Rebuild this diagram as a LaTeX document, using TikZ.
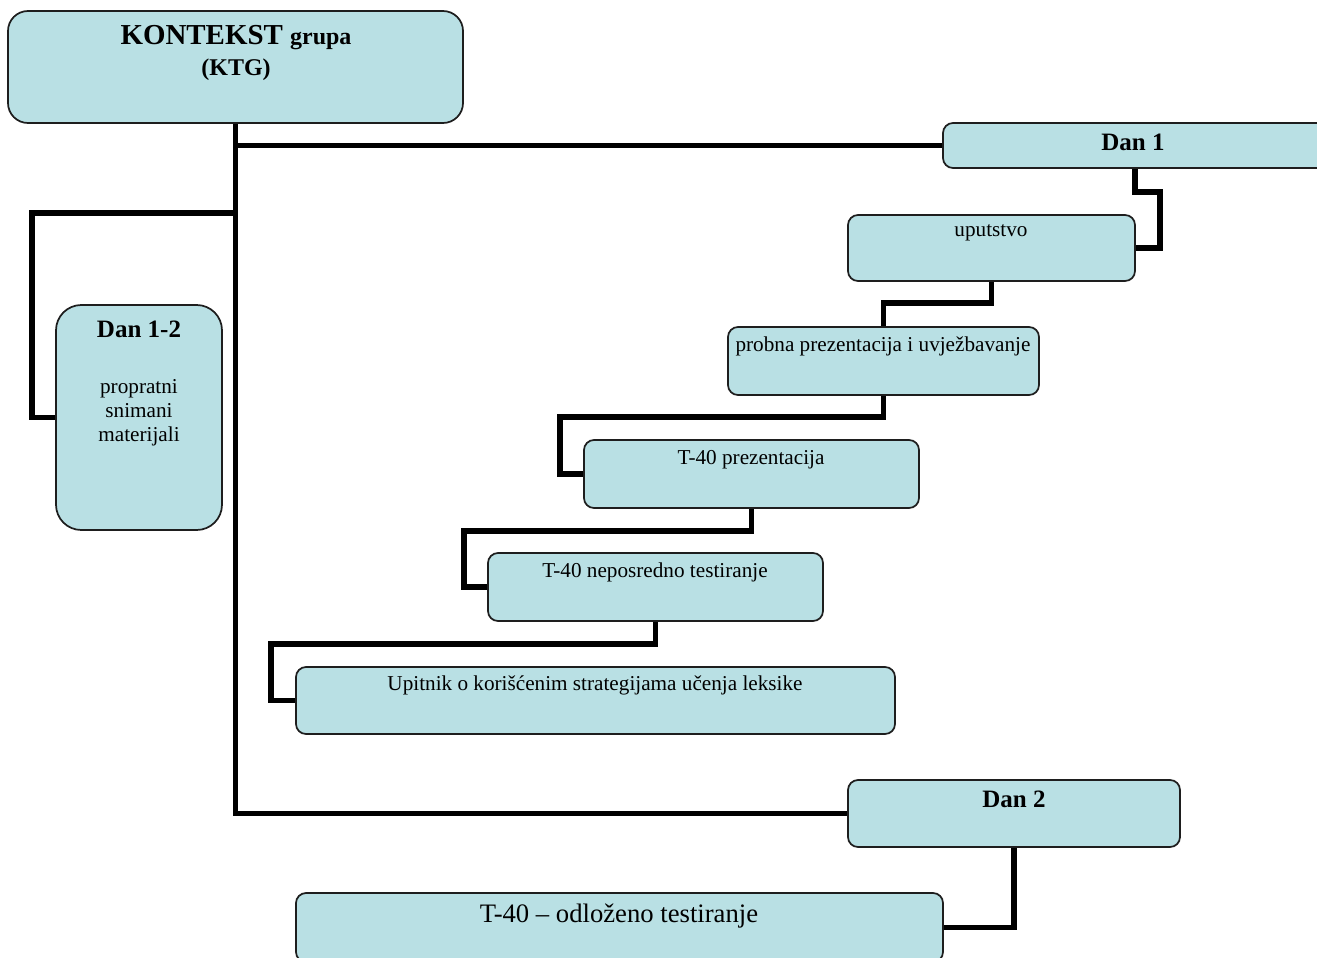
\documentclass[tikz,border=0pt]{standalone}
\usepackage{fontspec}
\setmainfont{Liberation Serif}
\usetikzlibrary{fit}
\definecolor{boxfill}{RGB}{185,224,228}
\definecolor{boxline}{RGB}{30,30,30}
\pgfdeclarelayer{bg}
\pgfsetlayers{bg,main}

\begin{document}
\begin{tikzpicture}[x=0.75pt,y=-0.75pt,
  box/.style={draw=boxline, line width=1.3pt, fill=boxfill, inner sep=0pt, outer sep=0pt, rounded corners=7.5pt},
  conn/.style={draw=black, line width=4.2pt},
  reg/.style={inner sep=0pt, anchor=base, font=\fontsize{15.9}{19}\selectfont},
  ttl/.style={inner sep=0pt, anchor=base, font=\fontsize{18.75}{22}\selectfont\bfseries},
]
\useasboundingbox (0,0) rectangle (1317,957);

% boxes
\node[box, rounded corners=15pt, fit={(8,11) (463,123)}] (ktg) {};
\node[box, fit={(943,123) (1345,168)}] (dan1) {};
\node[box, rounded corners=19pt, fit={(56,305) (222,530)}] (d12) {};
\node[box, fit={(848,215) (1135,281)}] (upu) {};
\node[box, fit={(728,327) (1039,395)}] (prob) {};
\node[box, fit={(584,440) (919,508)}] (tpr) {};
\node[box, fit={(488,553) (823,621)}] (nep) {};
\node[box, fit={(296,667) (895,734)}] (upit) {};
\node[box, fit={(848,780) (1180,847)}] (dan2) {};
\node[box, fit={(296,893) (943,962)}] (odl) {};

% texts
\node[inner sep=0pt, align=center, anchor=north, font=\fontsize{21.7}{23.25}\selectfont] (ktgtxt) at (236,25.4)
  {\textbf{KONTEKST {\fontsize{18}{23.25}\selectfont grupa}}\\{\fontsize{18}{23.25}\selectfont\bfseries (KTG)}};
\node[ttl] (dan1txt) at (1133,150) {Dan 1};
\node[ttl] (d12txt) at (139,337) {Dan 1-2};
\node[inner sep=0pt, align=center, anchor=north, font=\fontsize{15.9}{18}\selectfont] (d12sub) at (139,379)
  {propratni\\snimani\\materijali};
\node[reg] (uputxt) at (991,236) {uputstvo};
\node[reg] (probtxt) at (883,351) {probna prezentacija i uvježbavanje};
\node[reg] (tprtxt) at (751,464) {T-40 prezentacija};
\node[reg] (neptxt) at (655,577) {T-40 neposredno testiranje};
\node[reg] (upittxt) at (595,690) {Upitnik o korišćenim strategijama učenja leksike};
\node[ttl] (dan2txt) at (1014,807) {Dan 2};
\node[reg, font=\fontsize{20}{24}\selectfont] (odltxt) at (619,922) {T-40 – odloženo testiranje};

% connectors
\coordinate (k0) at (32,213);
\coordinate (k1) at (1160,192);
\coordinate (k2) at (560,417);
\coordinate (k3) at (464,531);
\coordinate (k4) at (271,644);
\coordinate (d1b) at (upu.east |- dan1.south);
\begin{pgfonlayer}{bg}
\draw[conn] (ktg.south) -- (ktg.south |- dan2.west) -- (dan2.west);
\draw[conn] (ktg.south |- dan1.west) -- (dan1.west);
\draw[conn] (ktg.south |- k0) -- (k0) |- (d12.west);
\draw[conn] (d1b) |- (k1) |- (upu.east);
\draw[conn] (upu.south) -- ++(0,22) -| (prob.north);
\draw[conn] (prob.south) |- (k2) |- (tpr.west);
\draw[conn] (tpr.south) |- (k3) |- (nep.west);
\draw[conn] (nep.south) |- (k4) |- (upit.west);
\draw[conn] (dan2.south) |- (odl.east);
\end{pgfonlayer}
\end{tikzpicture}
\end{document}
